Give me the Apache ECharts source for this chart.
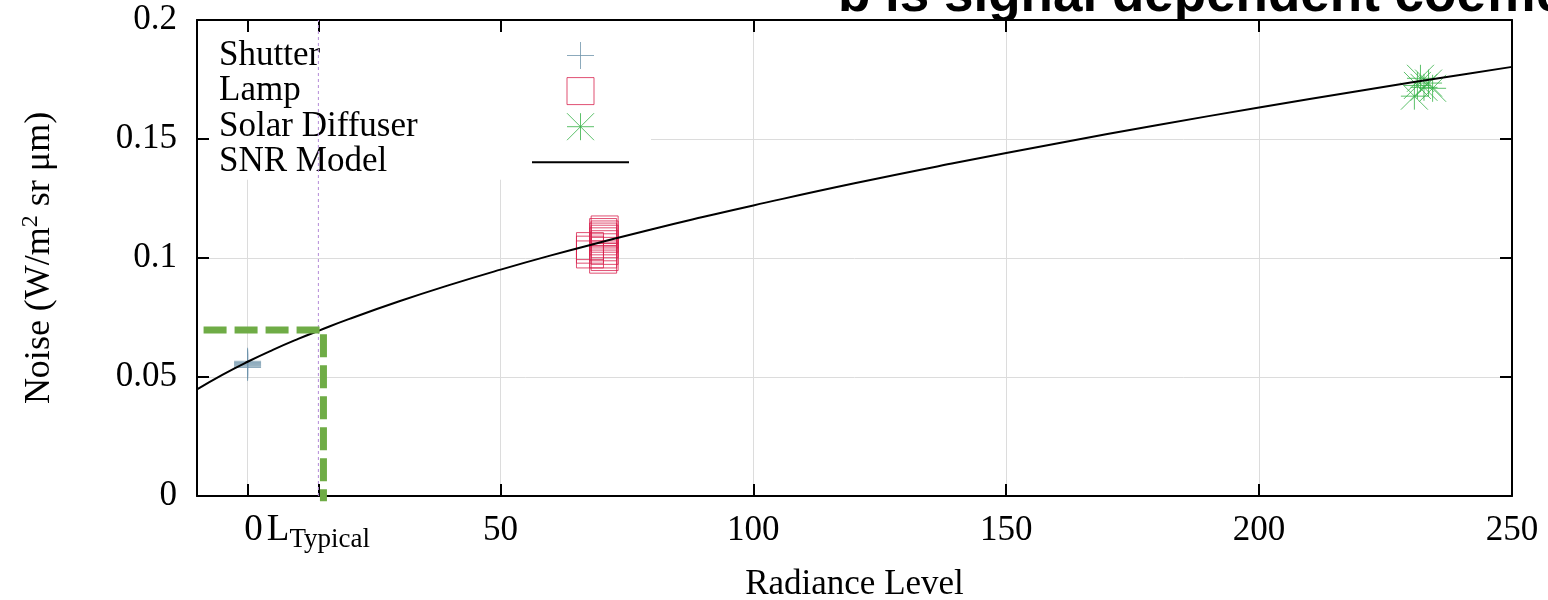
<!DOCTYPE html>
<html>
<head>
<meta charset="utf-8">
<script src="https://cdn.jsdelivr.net/npm/echarts@6/dist/echarts.min.js"></script>
<style>
  html, body { margin: 0; padding: 0; background: #fff; }
  #chart { width: 1548px; height: 600px; }
</style>
</head>
<body>
<div id="chart"></div>
<script>
// SNR model curve (radiance level vs. noise)
const modelRadiance = [-10, -5, 0, 5, 10, 14, 20, 30, 40, 50, 60, 70, 80, 90, 100, 120, 140, 160, 180, 200, 220, 240, 250];
const modelNoise = [0.0448, 0.0509, 0.0564, 0.0614, 0.0660, 0.0694, 0.0743, 0.0818, 0.0887, 0.0951, 0.1011, 0.1067, 0.1121, 0.1172, 0.1221, 0.1314, 0.1400, 0.1481, 0.1559, 0.1632, 0.1703, 0.1770, 0.1803];

// Measurements
const shutterRadiance = [0, 0, 0, 0, 0, 0, 0];
const shutterNoise = [0.0540, 0.0545, 0.0549, 0.0553, 0.0557, 0.0561, 0.0566];
const lampRadiance = [67.7, 67.7, 67.7, 70.6, 70.3, 70.6, 70.3, 70.6, 70.3, 70.6, 70.3, 70.6, 70.3, 70.6, 70.3];
const lampNoise = [0.1050, 0.1035, 0.1015, 0.1120, 0.1109, 0.1099, 0.1090, 0.1081, 0.1070, 0.1058, 0.1045, 0.1030, 0.1015, 0.1004, 0.0993];
const solarRadiance = [230.7, 231.9, 232.6, 234.3, 233.5, 231.3];
const solarNoise = [0.1680, 0.1755, 0.1717, 0.1713, 0.1735, 0.1725];

// Axis ticks
const xTickValues = [0, 14, 50, 100, 150, 200, 250];
const typicalRadiance = 14;

// Guide to the typical noise level
const guideRadiance = [-8.7, 15, 15];
const guideNoise = [0.0697, 0.0697, -0.0022];

const zip = (xs, ys) => xs.map((x, i) => [x, ys[i]]);

const SERIF = '"Liberation Serif", "Times New Roman", serif';
const PLUS = 'path://M0,10H20M10,0V20';
const SQUARE = 'path://M0,0H20V20H0Z';
const STAR = 'path://M0,10H20M10,0V20M0,0L20,20M20,0L0,20';

const chart = echarts.init(document.getElementById('chart'), null, { renderer: 'canvas' });

const xBase = { type: 'value', min: -10, max: 250, gridIndex: 0 };
const yBase = { type: 'value', min: 0, max: 0.2, interval: 0.05, gridIndex: 0 };
const tickStyle = { show: true, inside: true, length: 12, lineStyle: { color: '#000', width: 2 } };
const lineStyleAxis = { show: true, onZero: false, lineStyle: { color: '#000', width: 2 } };

chart.setOption({
  backgroundColor: '#fff',
  animation: false,
  graphic: [{
    type: 'text', z: -10, x: 838, y: -4,
    style: {
      text: 'b is signal dependent coefficient',
      font: 'bold 53px "Liberation Sans", Arial, sans-serif',
      fill: '#000', align: 'left', verticalAlign: 'middle'
    }
  }],
  grid: {
    left: 197, right: 36, top: 20, bottom: 104,
    show: true, backgroundColor: '#fff', borderWidth: 0,
    outerBoundsMode: 'none'
  },
  legend: {
    data: [
      { name: 'Shutter' },
      { name: 'Lamp' },
      { name: 'Solar Diffuser' },
      { name: 'SNR Model', itemStyle: { color: 'transparent', borderWidth: 0, opacity: 0 } }
    ],
    orient: 'vertical', align: 'right',
    left: 199, top: 20,
    padding: [18, 21, 0, 20],
    backgroundColor: '#fff',
    itemWidth: 97, itemHeight: 27, itemGap: 0.6,
    selectedMode: false,
    itemStyle: { borderWidth: 1 },
    formatter: name => '{t|' + name + '}',
    textStyle: {
      color: '#000', fontFamily: SERIF, fontSize: 35, lineHeight: 30,
      rich: { t: { width: 308, align: 'left', fontFamily: SERIF, fontSize: 35, lineHeight: 30, color: '#000' } }
    }
  },
  xAxis: [
    Object.assign({}, xBase, {
      position: 'bottom', z: 5,
      name: 'Radiance Level', nameLocation: 'middle', nameGap: 71, nameMoveOverlap: false,
      nameTextStyle: { fontFamily: SERIF, fontSize: 35, color: '#000' },
      axisLine: lineStyleAxis,
      axisTick: Object.assign({}, tickStyle, { customValues: xTickValues }),
      axisLabel: {
        customValues: xTickValues, margin: 17,
        fontFamily: SERIF, fontSize: 35, lineHeight: 35, color: '#000',
        formatter: v => v === typicalRadiance ? '{l|L}{s|Typical}' : (v === 0 ? '{z|0}' : String(v)),
        rich: {
          z: { fontFamily: SERIF, fontSize: 37, padding: [0, 0, 0, 12], color: '#000' },
          l: { fontFamily: SERIF, fontSize: 37, color: '#000' },
          s: { fontFamily: SERIF, fontSize: 27, padding: [18, 0, 0, 0], color: '#000' }
        }
      },
      splitLine: { show: false }
    }),
    Object.assign({}, xBase, {
      position: 'top', z: 5,
      axisLine: lineStyleAxis,
      axisTick: Object.assign({}, tickStyle, { customValues: xTickValues }),
      axisLabel: { show: false },
      splitLine: { show: false }
    }),
    Object.assign({}, xBase, {
      position: 'bottom', z: 0,
      axisLine: { show: false }, axisTick: { show: false }, axisLabel: { show: false },
      splitLine: { show: true, lineStyle: { color: '#dcdcdc', width: 1 } }
    })
  ],
  yAxis: [
    Object.assign({}, yBase, {
      position: 'left', z: 5,
      name: 'Noise (W/m{sup|2} sr μm)', nameLocation: 'middle', nameGap: 136, nameMoveOverlap: false,
      nameTextStyle: {
        fontFamily: SERIF, fontSize: 36, color: '#000', lineHeight: 42,
        rich: { sup: { fontFamily: SERIF, fontSize: 24, lineHeight: 24, verticalAlign: 'top', color: '#000' } }
      },
      axisLine: lineStyleAxis,
      axisTick: tickStyle,
      axisLabel: { margin: 20, fontFamily: SERIF, fontSize: 35, color: '#000' },
      splitLine: { show: false }
    }),
    Object.assign({}, yBase, {
      position: 'right', z: 5,
      axisLine: lineStyleAxis,
      axisTick: tickStyle,
      axisLabel: { show: false },
      splitLine: { show: false }
    }),
    Object.assign({}, yBase, {
      position: 'left', z: 0,
      axisLine: { show: false }, axisTick: { show: false }, axisLabel: { show: false },
      splitLine: { show: true, lineStyle: { color: '#dcdcdc', width: 1 } }
    })
  ],
  series: [
    {
      name: 'Shutter', type: 'scatter', symbol: PLUS, symbolSize: 27,
      itemStyle: { color: 'transparent', borderColor: '#6f95ab', borderWidth: 1 },
      data: zip(shutterRadiance, shutterNoise), z: 3
    },
    {
      name: 'Lamp', type: 'scatter', symbol: SQUARE, symbolSize: 27,
      itemStyle: { color: 'transparent', borderColor: '#d8234f', borderWidth: 1 },
      data: zip(lampRadiance, lampNoise), z: 3
    },
    {
      name: 'Solar Diffuser', type: 'scatter', symbol: STAR, symbolSize: 27,
      itemStyle: { color: 'transparent', borderColor: '#34b146', borderWidth: 1 },
      data: zip(solarRadiance, solarNoise), z: 3
    },
    {
      name: 'SNR Model', type: 'line', symbol: 'none', smooth: true,
      lineStyle: { color: '#000', width: 2 },
      itemStyle: { color: '#000' },
      data: zip(modelRadiance, modelNoise), z: 4
    },
    {
      name: 'L typical', type: 'line', symbol: 'none', silent: true, z: 6,
      lineStyle: { color: '#b48ad8', width: 1, type: [3, 3] },
      data: [[typicalRadiance, 0], [typicalRadiance, 0.2]]
    },
    {
      name: 'Typical noise', type: 'line', symbol: 'none', silent: true, z: 6, clip: false,
      lineStyle: { color: '#6fac46', width: 7, type: [23, 8], cap: 'butt' },
      data: zip(guideRadiance, guideNoise)
    }
  ]
});
</script>
</body>
</html>
